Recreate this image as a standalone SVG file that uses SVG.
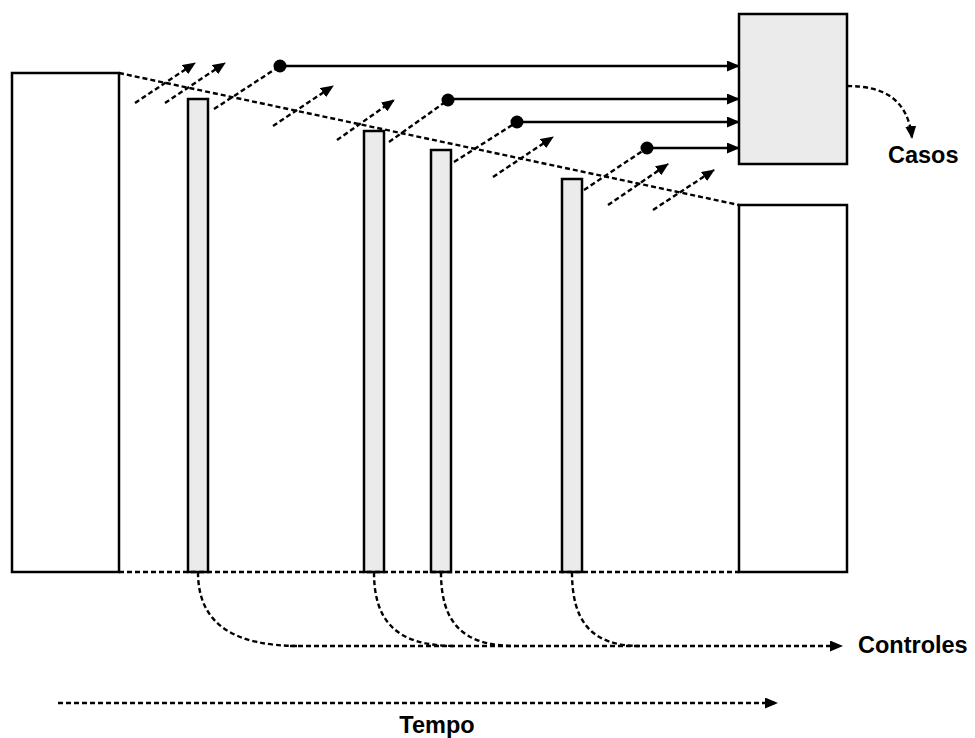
<svg xmlns="http://www.w3.org/2000/svg" width="975" height="738" viewBox="0 0 975 738">
  <style>
    .box { fill: #ffffff; stroke: #000; stroke-width: 2.5; }
    .bar { fill: #ebebeb; stroke: #000; stroke-width: 2.5; }
    .dash { fill: none; stroke: #000; stroke-width: 2.4; stroke-dasharray: 5 3; }
    .solid { fill: none; stroke: #000; stroke-width: 2.4; }
    .lbl { font-family: "Liberation Sans", Arial, sans-serif; font-weight: bold; font-size: 23.5px; fill: #000; }
  </style>
  <defs>
    <marker id="head" viewBox="0 0 13 11" refX="12" refY="5.5" markerWidth="13" markerHeight="11" markerUnits="userSpaceOnUse" orient="auto">
      <path d="M0,0 L13,5.5 L0,11 z" fill="#000"/>
    </marker>
    <marker id="dot" viewBox="0 0 14 14" refX="7" refY="7" markerWidth="14" markerHeight="14" markerUnits="userSpaceOnUse">
      <circle cx="7" cy="7" r="6.5" fill="#000"/>
    </marker>
  </defs>

  <!-- population blocks -->
  <g id="start-block"><rect class="box" x="12" y="73" width="107" height="499"/></g>
  <g id="end-block"><rect class="box" x="739" y="205" width="108" height="367"/></g>
  <g id="cases-box"><rect class="bar" x="739" y="14" width="108" height="150"/></g>
  <g id="bar1"><rect class="bar" x="188" y="99" width="20" height="473"/></g>
  <g id="bar2"><rect class="bar" x="364" y="131" width="20" height="441"/></g>
  <g id="bar3"><rect class="bar" x="431" y="150" width="20" height="422"/></g>
  <g id="bar4"><rect class="bar" x="562" y="179" width="20" height="393"/></g>

  <g id="connectors">
    <!-- cohort outline -->
    <path class="dash" d="M119,73 L739,205"/>
    <path class="dash" d="M119,572 L739,572"/>

    <!-- losses to follow-up -->
    <path class="dash" marker-end="url(#head)" d="M135,103 L195,63"/>
    <path class="dash" marker-end="url(#head)" d="M165,103 L225,63"/>
    <path class="dash" marker-end="url(#head)" d="M273,126 L333,86"/>
    <path class="dash" marker-end="url(#head)" d="M337,140 L394,100"/>
    <path class="dash" marker-end="url(#head)" d="M493,177 L553,137"/>
    <path class="dash" marker-end="url(#head)" d="M608,205 L668,164"/>
    <path class="dash" marker-end="url(#head)" d="M653,210 L714,170"/>

    <!-- cases leaving each bar -->
    <path class="dash" marker-end="url(#dot)" d="M214,109 L280,66"/>
    <path class="solid" marker-end="url(#head)" d="M280,66 L739,66"/>
    <path class="dash" marker-end="url(#dot)" d="M389,142 L448,100"/>
    <path class="solid" marker-end="url(#head)" d="M448,99 L739,99"/>
    <path class="dash" marker-end="url(#dot)" d="M454,162 L517,122"/>
    <path class="solid" marker-end="url(#head)" d="M517,122 L739,122"/>
    <path class="dash" marker-end="url(#dot)" d="M584,190 L647,148"/>
    <path class="solid" marker-end="url(#head)" d="M647,148 L739,148"/>

    <!-- cases output -->
    <path class="dash" marker-end="url(#head)" d="M847,86 C885,86 908,100 912,138"/>

    <!-- controls drawn from each bar -->
    <path class="dash" d="M198,572 C198,625 235,646 300,646"/>
    <path class="dash" d="M374,572 C374,620 395,646 455,646"/>
    <path class="dash" d="M441,572 C441,620 460,646 515,646"/>
    <path class="dash" d="M572,572 C572,620 590,646 640,646"/>
    <path class="dash" marker-end="url(#head)" d="M290,646 L842,646"/>

    <!-- time axis -->
    <path class="dash" marker-end="url(#head)" d="M58,703 L777,703"/>
  </g>

  <text class="lbl" x="888" y="163">Casos</text>
  <text class="lbl" x="858" y="653">Controles</text>
  <text class="lbl" x="437" y="733" text-anchor="middle">Tempo</text>
</svg>
